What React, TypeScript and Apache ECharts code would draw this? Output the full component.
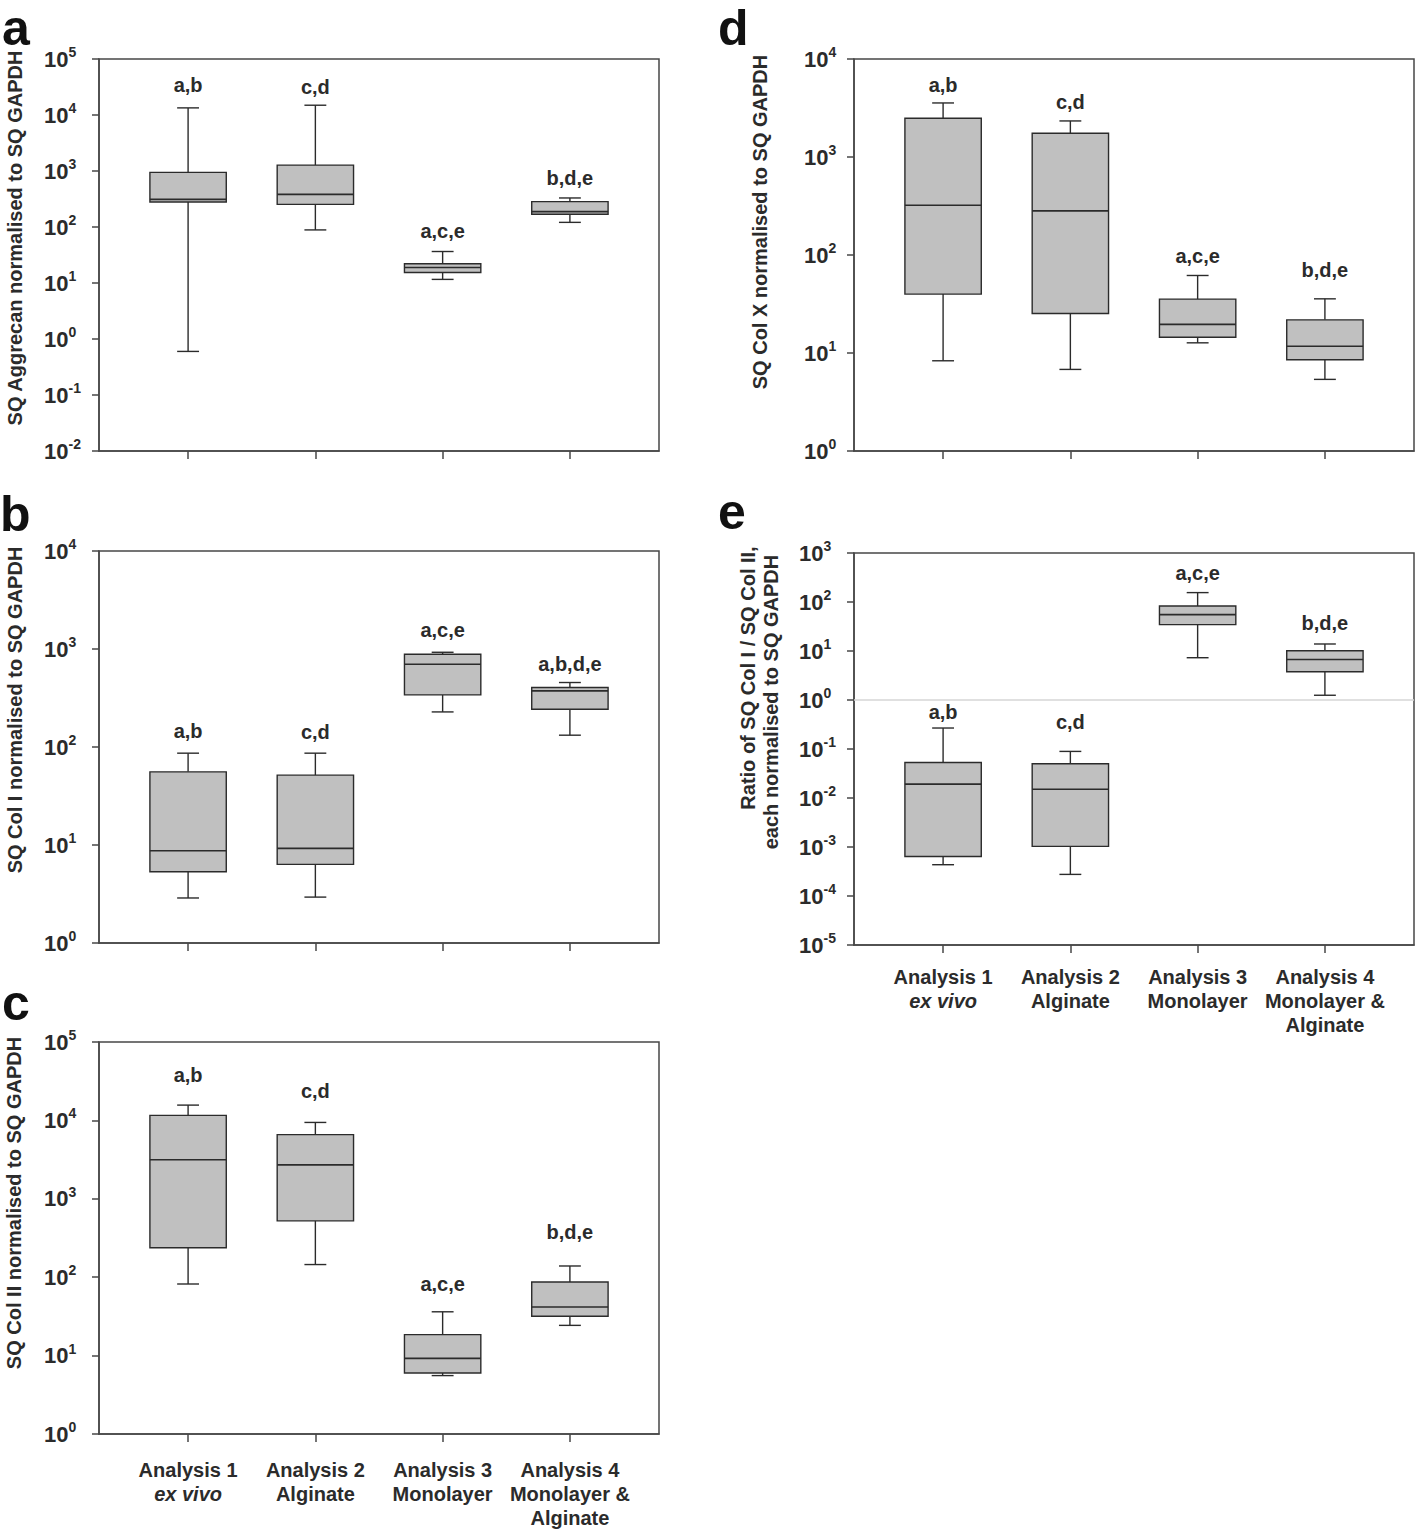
import React, { useEffect, useRef } from "react";
import * as echarts from "echarts";

const FONT = "'Liberation Sans', Arial, Helvetica, sans-serif";

const categories = ["Analysis 1", "Analysis 2", "Analysis 3", "Analysis 4"];
const categorySubLines = [["ex vivo"], ["Alginate"], ["Monolayer"], ["Monolayer &", "Alginate"]];
const categoryX = [1, 2, 3, 4];

// each box: [min, Q1, median, Q3, max]
const aggrecanStats = [
  [0.6, 280, 312, 944, 13400],
  [88.7, 254, 383, 1275, 14950],
  [11.6, 15.4, 18.9, 22, 36.5],
  [121, 169, 188, 284, 330],
];
const aggrecanLetters = ["a,b", "c,d", "a,c,e", "b,d,e"];
const aggrecanLetterAt = [34000, 31300, 85, 759];

const col1Stats = [
  [2.88, 5.33, 8.73, 55.8, 86.5],
  [2.94, 6.34, 9.23, 51.6, 86.5],
  [228, 340, 699, 884, 926],
  [132, 243, 374, 404, 455],
];
const col1Letters = ["a,b", "c,d", "a,c,e", "a,b,d,e"];
const col1LetterAt = [144, 142, 1567, 699];

const col2Stats = [
  [81.9, 238, 3146, 11600, 15670],
  [145, 523, 2710, 6580, 9420],
  [5.56, 6.01, 9.23, 18.5, 36.2],
  [24.3, 31.8, 41.6, 87, 139],
];
const col2Letters = ["a,b", "c,d", "a,c,e", "b,d,e"];
const col2LetterAt = [38000, 23600, 82.8, 377];

const colXStats = [
  [8.33, 39.9, 322, 2483, 3560],
  [6.8, 25.3, 282, 1746, 2333],
  [12.7, 14.5, 19.6, 35.5, 61.8],
  [5.38, 8.54, 11.7, 21.8, 35.7],
];
const colXLetters = ["a,b", "c,d", "a,c,e", "b,d,e"];
const colXLetterAt = [5470, 3645, 98.8, 70];

const ratioStats = [
  [4.35e-4, 6.4e-4, 0.0192, 0.0532, 0.268],
  [2.76e-4, 1.03e-3, 0.01504, 0.0499, 0.0893],
  [7.29, 34.5, 55.2, 82.7, 155.5],
  [1.25, 3.76, 6.73, 10.1, 13.9],
];
const ratioLetters = ["a,b", "c,d", "a,c,e", "b,d,e"];
const ratioLetterAt = [0.556, 0.353, 385, 37.4];
const ratioReference = [1];

// layout
const panels = [
  {
    stats: aggrecanStats, letters: aggrecanLetters, letterAt: aggrecanLetterAt,
    yMin: 1e-2, yMax: 1e5, grid: { left: 99, top: 59, width: 560, height: 392 },
    yLabelMargin: 55, xLabels: false, xLabelMargin: 24,
  },
  {
    stats: col1Stats, letters: col1Letters, letterAt: col1LetterAt,
    yMin: 1, yMax: 1e4, grid: { left: 99, top: 551, width: 560, height: 392 },
    yLabelMargin: 55, xLabels: false, xLabelMargin: 24,
  },
  {
    stats: col2Stats, letters: col2Letters, letterAt: col2LetterAt,
    yMin: 1, yMax: 1e5, grid: { left: 99, top: 1042, width: 560, height: 392 },
    yLabelMargin: 55, xLabels: true, xLabelMargin: 24,
  },
  {
    stats: colXStats, letters: colXLetters, letterAt: colXLetterAt,
    yMin: 1, yMax: 1e4, grid: { left: 854, top: 59, width: 560, height: 392 },
    yLabelMargin: 50, xLabels: false, xLabelMargin: 24,
  },
  {
    stats: ratioStats, letters: ratioLetters, letterAt: ratioLetterAt,
    yMin: 1e-5, yMax: 1e3, grid: { left: 854, top: 553, width: 560, height: 392 },
    yLabelMargin: 55, xLabels: true, xLabelMargin: 20, reference: ratioReference,
  },
];

const yTitles = [
  { text: "SQ Aggrecan normalised to SQ GAPDH", x: 15, y: 238 },
  { text: "SQ Col I normalised to SQ GAPDH", x: 15, y: 710 },
  { text: "SQ Col II normalised to SQ GAPDH", x: 14, y: 1203 },
  { text: "SQ Col X normalised to SQ GAPDH", x: 760, y: 222 },
  { text: "Ratio of SQ Col I / SQ Col II,", x: 748, y: 678 },
  { text: "each normalised to SQ GAPDH", x: 771, y: 702 },
];

const panelLetters = [
  { text: "a", x: 2, y: 28 },
  { text: "b", x: 0, y: 514 },
  { text: "c", x: 2, y: 1003 },
  { text: "d", x: 718, y: 28 },
  { text: "e", x: 718, y: 512 },
];

const INK = "#2b2b2b";
const FRAME = "#474747";
const BOX_FILL = "#c0c0c0";
const BOX_HALF = 0.3;
const CAP_HALF = 0.086;

function buildOption() {
  const grids: any[] = [];
  const xAxes: any[] = [];
  const yAxes: any[] = [];
  const series: any[] = [];

  panels.forEach((p, k) => {
    grids.push({
      ...p.grid,
      show: true,
      borderColor: FRAME,
      borderWidth: 1.5,
      backgroundColor: "transparent",
      containLabel: false,
    });
    xAxes.push({
      type: "value",
      gridIndex: k,
      min: 0.3,
      max: 4.7,
      splitLine: { show: false },
      axisLine: { show: true, onZero: false, lineStyle: { color: FRAME, width: 1.5 } },
      axisTick: { show: true, customValues: categoryX, length: 8, lineStyle: { color: FRAME, width: 1.5 } },
      axisLabel: {
        show: p.xLabels,
        customValues: categoryX,
        margin: p.xLabelMargin,
        color: INK,
        fontFamily: FONT,
        fontSize: 20,
        fontWeight: "bold",
        formatter: (v: number) => {
          const i = Math.round(v) - 1;
          if (i < 0 || i > 3) return "";
          const lines = [`{b|${categories[i]}}`];
          categorySubLines[i].forEach((l) => {
            lines.push(i === 0 ? `{i|${l}}` : `{b|${l}}`);
          });
          return lines.join("\n");
        },
        rich: {
          b: { fontFamily: FONT, fontSize: 20, fontWeight: "bold", color: INK, lineHeight: 24 },
          i: { fontFamily: FONT, fontSize: 20, fontWeight: "bold", fontStyle: "italic", color: INK, lineHeight: 24 },
        },
      },
    });
    yAxes.push({
      type: "log",
      logBase: 10,
      gridIndex: k,
      min: p.yMin,
      max: p.yMax,
      splitLine: { show: false },
      minorTick: { show: false },
      axisLine: { show: true, lineStyle: { color: FRAME, width: 1.5 } },
      axisTick: { show: true, length: 7, lineStyle: { color: FRAME, width: 1.5 } },
      axisLabel: {
        margin: p.yLabelMargin,
        align: "left",
        formatter: (v: number) => {
          const e = Math.round(Math.log10(v));
          return `{b|10}{s|${e}}`;
        },
        rich: {
          b: { fontFamily: FONT, fontSize: 22, fontWeight: "bold", color: INK, lineHeight: 28 },
          s: { fontFamily: FONT, fontSize: 14, fontWeight: "bold", color: INK, lineHeight: 14, verticalAlign: "top" },
        },
      },
    });

    const data = p.stats.map((s, i) => [categoryX[i], ...s, p.letterAt[i]]);
    const letters = p.letters;
    const s: any = {
      type: "custom",
      xAxisIndex: k,
      yAxisIndex: k,
      data,
      encode: { x: 0, y: [1, 2, 3, 4, 5, 6] },
      renderItem: (params: any, api: any) => {
        const idx = params.dataIndex;
        const x = api.value(0);
        const mn = api.value(1);
        const q1 = api.value(2);
        const md = api.value(3);
        const q3 = api.value(4);
        const mx = api.value(5);
        const la = api.value(6);
        const c = (xx: number, yy: number) => api.coord([xx, yy]);
        const [xl, yq3] = c(x - BOX_HALF, q3);
        const [xr, yq1] = c(x + BOX_HALF, q1);
        const [xc, ymd] = c(x, md);
        const ymax = c(x, mx)[1];
        const ymin = c(x, mn)[1];
        const capL = c(x - CAP_HALF, mx)[0];
        const capR = c(x + CAP_HALF, mx)[0];
        const ly = c(x, la)[1];
        const ls = { stroke: INK, lineWidth: 1.4 };
        return {
          type: "group",
          children: [
            { type: "line", shape: { x1: xc, y1: yq3, x2: xc, y2: ymax }, style: ls },
            { type: "line", shape: { x1: capL, y1: ymax, x2: capR, y2: ymax }, style: ls },
            { type: "line", shape: { x1: xc, y1: yq1, x2: xc, y2: ymin }, style: ls },
            { type: "line", shape: { x1: capL, y1: ymin, x2: capR, y2: ymin }, style: ls },
            {
              type: "rect",
              shape: { x: xl, y: yq3, width: xr - xl, height: yq1 - yq3 },
              style: { fill: BOX_FILL, stroke: INK, lineWidth: 1.4 },
            },
            { type: "line", shape: { x1: xl, y1: ymd, x2: xr, y2: ymd }, style: { stroke: INK, lineWidth: 1.6 } },
            {
              type: "text",
              style: {
                text: letters[idx],
                x: xc,
                y: ly,
                align: "center",
                verticalAlign: "middle",
                fontFamily: FONT,
                fontSize: 20,
                fontWeight: "bold",
                fill: INK,
              },
            },
          ],
        };
      },
    };
    if ((p as any).reference) {
      s.markLine = {
        silent: true,
        symbol: "none",
        label: { show: false },
        lineStyle: { color: "#d6d6d6", width: 1.5, type: "solid" },
        data: (p as any).reference.map((r: number) => ({ yAxis: r })),
      };
    }
    series.push(s);
  });

  const graphics: any[] = [];
  yTitles.forEach((t) => {
    graphics.push({
      type: "text",
      x: t.x,
      y: t.y,
      rotation: Math.PI / 2,
      style: {
        text: t.text,
        align: "center",
        verticalAlign: "middle",
        fontFamily: FONT,
        fontSize: 20,
        fontWeight: "bold",
        fill: INK,
      },
    });
  });
  panelLetters.forEach((t) => {
    graphics.push({
      type: "text",
      x: t.x,
      y: t.y,
      style: {
        text: t.text,
        align: "left",
        verticalAlign: "middle",
        fontFamily: FONT,
        fontSize: 50,
        fontWeight: "bold",
        fill: "#111",
      },
    });
  });

  return {
    animation: false,
    backgroundColor: "#ffffff",
    grid: grids,
    xAxis: xAxes,
    yAxis: yAxes,
    series,
    graphic: { elements: graphics },
  };
}

export default function App() {
  const ref = useRef<HTMLDivElement>(null);
  useEffect(() => {
    if (!ref.current) return;
    const chart = echarts.init(ref.current, undefined, { renderer: "svg" });
    chart.setOption(buildOption() as any);
    return () => chart.dispose();
  }, []);
  return (
    <div
      ref={ref}
      style={{ position: "absolute", left: 0, top: 0, width: 1418, height: 1533, background: "#fff" }}
    />
  );
}
